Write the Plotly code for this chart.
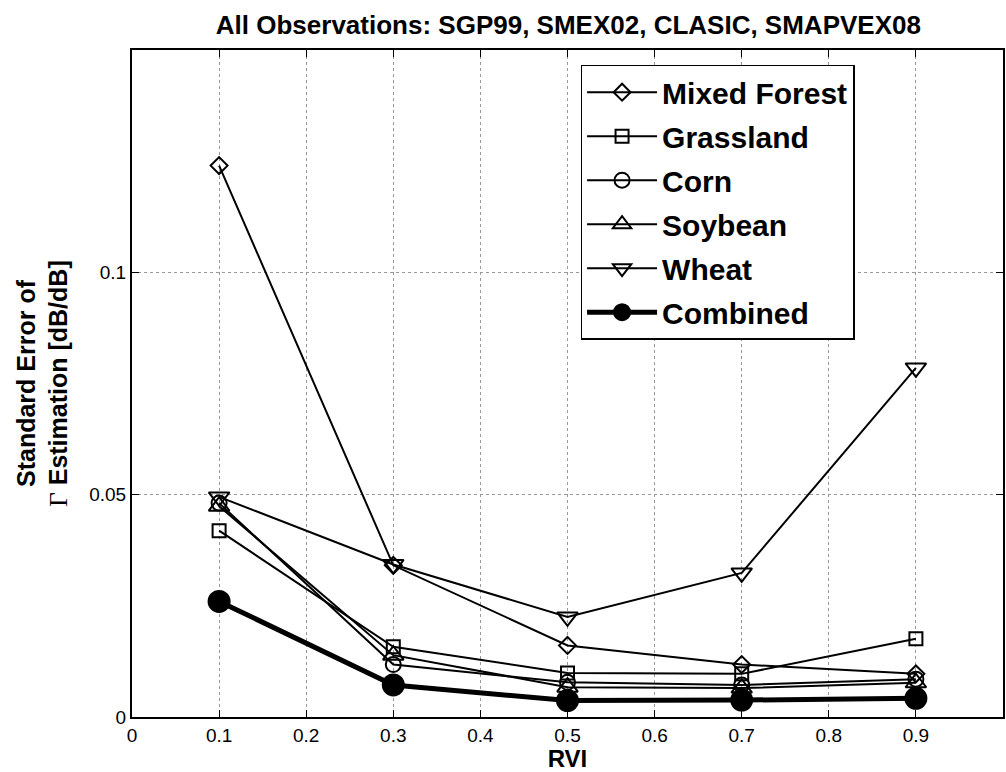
import plotly.graph_objects as go

rvi = [0.1, 0.3, 0.5, 0.7, 0.9]
mixed_forest = [0.124, 0.0341, 0.0161, 0.0118, 0.0097]
grassland = [0.0419, 0.0158, 0.0099, 0.0097, 0.0176]
corn = [0.0481, 0.0118, 0.0078, 0.0072, 0.0085]
soybean = [0.0474, 0.0139, 0.0067, 0.0065, 0.0077]
wheat = [0.0495, 0.0343, 0.0225, 0.0324, 0.0785]
combined = [0.0260, 0.0072, 0.0037, 0.0038, 0.0042]

x_ticks = [0, 0.1, 0.2, 0.3, 0.4, 0.5, 0.6, 0.7, 0.8, 0.9]
x_ticktext = ["0", "0.1", "0.2", "0.3", "0.4", "0.5", "0.6", "0.7", "0.8", "0.9"]
y_ticks = [0, 0.05, 0.1]
y_ticktext = ["0", "0.05", "0.1"]

series = [
    ("Mixed Forest", mixed_forest, "diamond-open", 13, 2),
    ("Grassland", grassland, "square-open", 13, 2),
    ("Corn", corn, "circle-open", 15, 2),
    ("Soybean", soybean, "triangle-up-open", 18, 2),
    ("Wheat", wheat, "triangle-down-open", 18, 2),
    ("Combined", combined, "circle", 21, 5),
]

FONT = "Liberation Sans, Arial, Helvetica, sans-serif"

fig = go.Figure()
for i, (name, vals, sym, size, lw) in enumerate(series):
    fig.add_trace(go.Scatter(
        x=rvi, y=vals, name="<b>%s</b>" % name, mode="lines+markers",
        legendgroup="g%d" % i,
        line=dict(color="black", width=lw),
        marker=dict(symbol=sym, size=size, color="black",
                    line=dict(color="black", width=2)),
    ))

axis_common = dict(
    showline=True, linecolor="black", linewidth=2, mirror="ticks",
    ticks="inside", ticklen=7, tickcolor="black",
    showgrid=True, gridcolor="#999999", griddash="dot", gridwidth=1,
    zeroline=False,
    tickfont=dict(family=FONT, size=19, color="black"),
)

fig.update_xaxes(
    range=[0, 1], tickvals=x_ticks, ticktext=x_ticktext,
    title=dict(text="<b>RVI</b>", font=dict(family=FONT, size=24, color="black"), standoff=0),
    **axis_common,
)
fig.update_yaxes(
    range=[0, 0.15], tickvals=y_ticks, ticktext=y_ticktext,
    title=dict(
        text="<b>Standard Error of</b><br><span style=\"font-family:'Liberation Serif', 'Times New Roman', serif\">Γ</span><b> Estimation [dB/dB]</b>",
        font=dict(family=FONT, size=25, color="black"), standoff=14),
    **axis_common,
)

fig.update_layout(
    width=1006, height=772,
    margin=dict(l=132, r=1, t=50, b=55),
    paper_bgcolor="white", plot_bgcolor="white",
    title=dict(text="<b>All Observations: SGP99, SMEX02, CLASIC, SMAPVEX08</b>",
               font=dict(family=FONT, size=26, color="black"),
               x=0.565, xanchor="center", y=0.968, yanchor="middle"),
    legend=dict(
        x=0.515, y=0.978, xanchor="left", yanchor="top",
        bgcolor="white", bordercolor="black", borderwidth=1.5,
        font=dict(family=FONT, size=30, color="black"),
        traceorder="grouped", tracegroupgap=2,
        itemwidth=70, entrywidth=242,
    ),
    showlegend=True,
)

fig.write_html("out.html")
